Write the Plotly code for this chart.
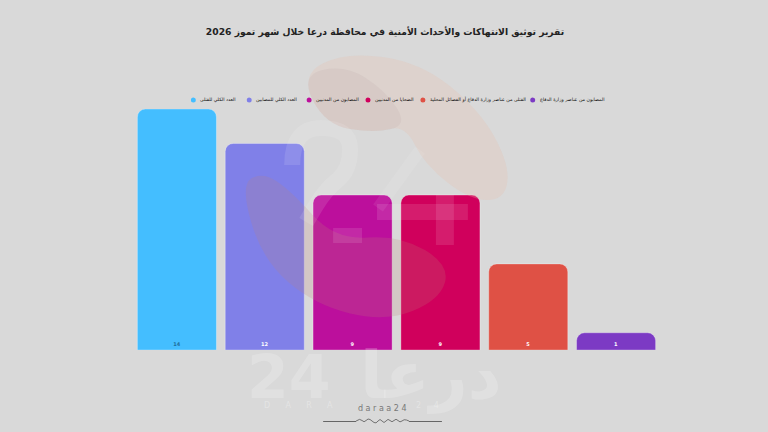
import plotly.graph_objects as go

# values
categories = [
    "العدد الكلي للقتلى",
    "العدد الكلي للمصابين",
    "المصابون من المدنيين",
    "الضحايا من المدنيين",
    "القتلى من عناصر وزارة الدفاع أو الفصائل المحلية",
    "المصابون من عناصر وزارة الدفاع",
]
values = [14, 12, 9, 9, 5, 1]
colors = ["#44BEFF", "#8080E8", "#BC0F9C", "#D0005C", "#DF5145", "#7C3AC4"]
label_colors = ["#1F6E9C", "#FFFFFF", "#FFFFFF", "#FFFFFF", "#FFFFFF", "#FFFFFF"]
title = "تقرير توثيق الانتهاكات والأحداث الأمنية في محافظة درعا خلال شهر تموز 2026"

W, H = 768, 432
L, R, T, B = 132.5, 107.5, 109, 82
FONT = "DejaVu Sans"


def px(x, y):
    # page pixels to paper coordinates
    return (x - L) / (W - L - R), 1 - (y - T) / (H - T - B)


def path(points):
    # closed smooth-ish path from page pixels, Q midpoints
    mids = [((points[i][0] + points[(i + 1) % len(points)][0]) / 2,
             (points[i][1] + points[(i + 1) % len(points)][1]) / 2) for i in range(len(points))]
    x0, y0 = px(*mids[-1])
    s = f"M{x0},{y0}"
    for p, m in zip(points, mids):
        a, b = px(*p)
        c, d = px(*m)
        s += f" Q{a},{b} {c},{d}"
    return s + " Z"


def open_path(points):
    # same smoothing, left open, for strokes
    s = "M{},{}".format(*px(*points[0]))
    for i in range(1, len(points) - 1):
        mx = (points[i][0] + points[i + 1][0]) / 2
        my = (points[i][1] + points[i + 1][1]) / 2
        a, b = px(*points[i])
        c, d = px(mx, my)
        s += f" Q{a},{b} {c},{d}"
    return s + " L{},{}".format(*px(*points[-1]))


def rect(x0, y0, x1, y1, color):
    a, b = px(x0, y0)
    c, d = px(x1, y1)
    return dict(type="rect", xref="paper", yref="paper", x0=a, y0=b, x1=c, y1=d,
                fillcolor=color, line_width=0)


def blob(points, color):
    return dict(type="path", xref="paper", yref="paper", path=path(points),
                fillcolor=color, line_width=0)


def stroke(points, color, width):
    return dict(type="path", xref="paper", yref="paper", path=open_path(points),
                line=dict(color=color, width=width))


PINK = "rgba(230,190,170,0.26)"
PINK2 = "rgba(120,90,100,0.06)"
PINK3 = "rgba(190,130,120,0.2)"
WHITE = "rgba(255,255,255,0.11)"

shapes = [
    # watermark blobs
    blob([(300, 75), (345, 52), (420, 62), (480, 110), (510, 165), (505, 200), (470, 200),
          (425, 165), (405, 125), (375, 133), (325, 125)], PINK),
    blob([(300, 75), (345, 65), (385, 90), (408, 125), (375, 133), (325, 125)], PINK2),
    blob([(240, 185), (262, 172), (290, 190), (335, 240), (400, 235), (450, 265), (440, 300),
          (385, 322), (315, 305), (262, 260)], PINK3),
    # big 2 and plus of the watermark
    stroke([(292, 165), (292, 128), (350, 128), (350, 170), (325, 190), (306, 222)], WHITE, 16),
    stroke([(420, 150), (378, 208)], "rgba(255,255,255,0.08)", 12),
    rect(333, 228, 362, 243, WHITE),
    rect(377, 204, 468, 220, WHITE),
    rect(436, 195, 454, 245, WHITE),
    # ornament under the logo
    rect(323, 421, 356, 422, "#666666"),
    rect(409, 421, 442, 422, "#666666"),
    stroke([(356, 421), (360, 418), (364, 423), (368, 418), (372, 421), (376, 424), (380, 418),
            (384, 424), (388, 418), (392, 423), (396, 418), (400, 423), (404, 419), (409, 421)],
           "#555555", 0.8),
]

annotations = []

# legend, drawn by hand: the native one keeps a wide gap after the symbol
legend_x = [193, 249, 309, 368, 423, 533]
for name, color, x in zip(categories, colors, legend_x):
    a, b = px(x - 2.5, 97.5)
    c, d = px(x + 2.5, 102.5)
    shapes.append(dict(type="circle", xref="paper", yref="paper", x0=a, y0=b, x1=c, y1=d,
                       fillcolor=color, line_width=0))
    tx, ty = px(x + 5, 100)
    annotations.append(dict(text=name, x=tx, y=ty, xref="paper", yref="paper", xanchor="left",
                            yanchor="middle", showarrow=False,
                            font=dict(family=FONT, size=4.7, color="#111111")))


def note(text, x, y, size, color, anchor="center", weight="normal"):
    a, b = px(x, y)
    annotations.append(dict(text=text, x=a, y=b, xref="paper", yref="paper", xanchor=anchor,
                            yanchor="middle", showarrow=False,
                            font=dict(family=FONT, size=size, color=color, weight=weight)))


note("24", 289, 377, 60, "rgba(255,255,255,0.2)", weight="bold")
note("درعا", 431, 375, 66, "rgba(255,255,255,0.2)", weight="bold")
note("D      A      R      A", 298, 405, 8, "rgba(255,255,255,0.3)")
note("2     4", 428, 405, 8, "rgba(255,255,255,0.3)")
note("d a r a a 2 4", 382, 408, 8, "#777777")

fig = go.Figure()
fig.add_trace(go.Bar(
    x=categories,
    y=values,
    text=values,
    textposition="inside",
    insidetextanchor="start",
    textangle=0,
    constraintext="none",
    textfont=dict(family=FONT, size=5, color=label_colors, weight="bold"),
    marker=dict(color=colors, line=dict(color="rgba(255,255,255,0.3)", width=1), cornerradius=8),
    showlegend=False,
    hoverinfo="x+y",
))
fig.update_layout(
    width=W,
    height=H,
    margin=dict(l=L, r=R, t=T, b=B),
    paper_bgcolor="#D9D9D9",
    plot_bgcolor="rgba(0,0,0,0)",
    bargap=0.1,
    title=dict(text=title, x=385 / W, y=1 - 32 / H, xanchor="center", yanchor="middle",
               font=dict(family=FONT, size=9.2, color="#222222", weight="bold")),
    xaxis=dict(visible=False),
    yaxis=dict(visible=False, range=[0, 14]),
    shapes=shapes,
    annotations=annotations,
)
# the page's default body margin would push the chart 8px in
fig.write_html("out.html", post_script="document.body.style.margin='0';",
               config=dict(displayModeBar=False))
